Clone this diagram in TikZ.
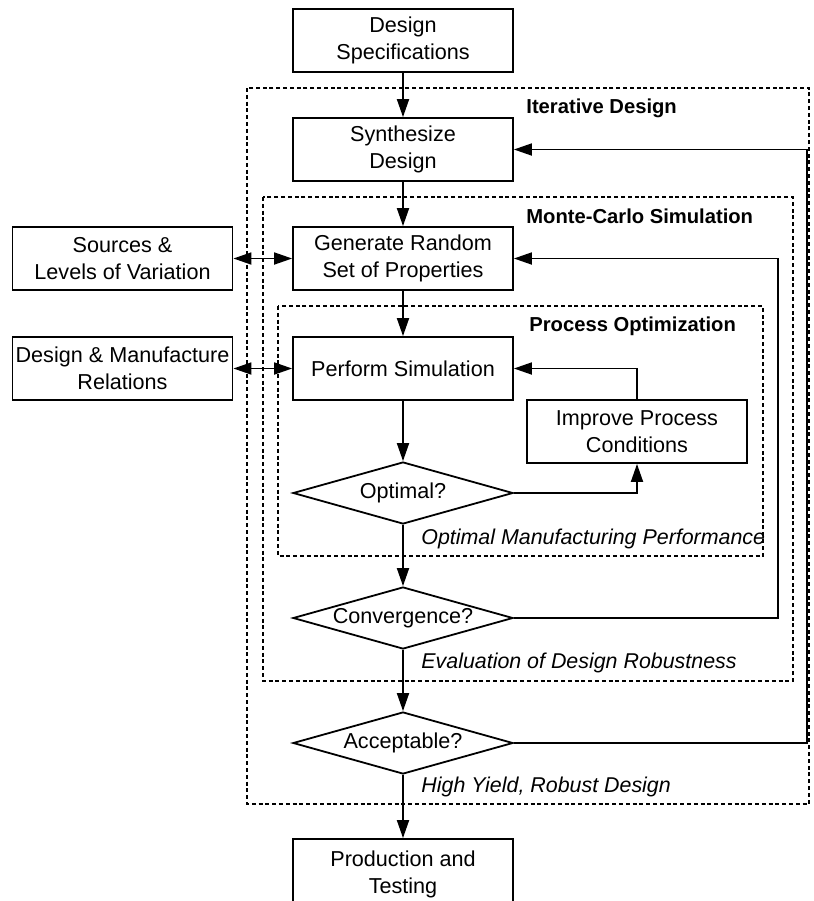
\documentclass[tikz,border=0pt]{standalone}
\usepackage{fontspec}
\setmainfont{Liberation Sans}
\usetikzlibrary{arrows.meta,shapes.geometric}
\begin{document}
\begin{tikzpicture}[x=0.5pt,y=-0.5pt,
  every node/.style={font=\fontsize{10.8pt}{13.5pt}\selectfont},
  box/.style={draw,line width=0.9pt,minimum width=110pt,minimum height=31.5pt,inner sep=0pt,align=center},
  dec/.style={draw,line width=0.9pt,shape=diamond,aspect=3.5,minimum width=110pt,minimum height=31pt,inner sep=0pt},
  grp/.style={draw,line width=0.7pt,dash pattern=on 2pt off 1.4pt},
  arr/.style={line width=0.9pt,-{Triangle[length=9pt,width=6pt]}},
  darr/.style={line width=0.9pt,{Triangle[length=9pt,width=6pt]}-{Triangle[length=9pt,width=6pt]}},
  lbl/.style={anchor=west,inner sep=0pt},
  blbl/.style={lbl,font=\fontsize{10.1pt}{12pt}\selectfont\bfseries},
  ilbl/.style={lbl,font=\fontsize{10.7pt}{13pt}\selectfont\itshape}]
\clip (0,0) rectangle (814,901);
\fill[white] (0,0) rectangle (814,901);
% group boxes
\draw[grp] (247,88) rectangle (809,804);
\draw[grp] (263,197) rectangle (793,681);
\draw[grp] (278,306) rectangle (763,556);
% nodes
\node[box] (spec) at (403,40.5) {Design\\Specifications};
\node[box] (synth) at (403,149.5) {Synthesize\\Design};
\node[box] (gen) at (403,258.5) {Generate Random\\Set of Properties};
\node[box] (src) at (122.5,258.5) {Sources \&\\Levels of Variation};
\node[box] (perf) at (403,368.5) {Perform Simulation};
\node[box] (dmr) at (122.5,368.5) {Design \& Manufacture\\Relations};
\node[box] (imp) at (637,431.5) {Improve Process\\Conditions};
\node[dec] (opt) at (403,493) {Optimal?};
\node[dec] (conv) at (403,618) {Convergence?};
\node[dec] (acc) at (403,743) {Acceptable?};
\node[box,minimum height=35pt] (prod) at (403,874) {Production and\\Testing};
% labels
\node[blbl] (l1) at (526,108) {Iterative Design};
\node[blbl] (l2) at (526,216) {Monte-Carlo Simulation};
\node[blbl] (l3) at (529,326) {Process Optimization};
\node[ilbl] (l4) at (421,539) {Optimal Manufacturing Performance};
\node[ilbl] (l5) at (421,663) {Evaluation of Design Robustness};
\node[ilbl] (l6) at (421,787) {High Yield, Robust Design};
% main flow
\draw[arr] (spec) -- (synth);
\draw[arr] (synth) -- (gen);
\draw[arr] (gen) -- (perf);
\draw[arr] (perf) -- (opt);
\draw[arr] (opt) -- (conv);
\draw[arr] (conv) -- (acc);
\draw[arr] (acc) -- (prod);
% side
\draw[darr] (src) -- (gen);
\draw[darr] (dmr) -- (perf);
% loops
\draw[arr] (imp.north) |- (perf.east);
\draw[arr] (opt.east) -| (imp.south);
\coordinate (c1) at (778,618);
\draw[arr] (conv.east) -- (c1) |- (gen.east);
\coordinate (c2) at (807,743);
\draw[arr] (acc.east) -- (c2) |- (synth.east);
\end{tikzpicture}
\end{document}
